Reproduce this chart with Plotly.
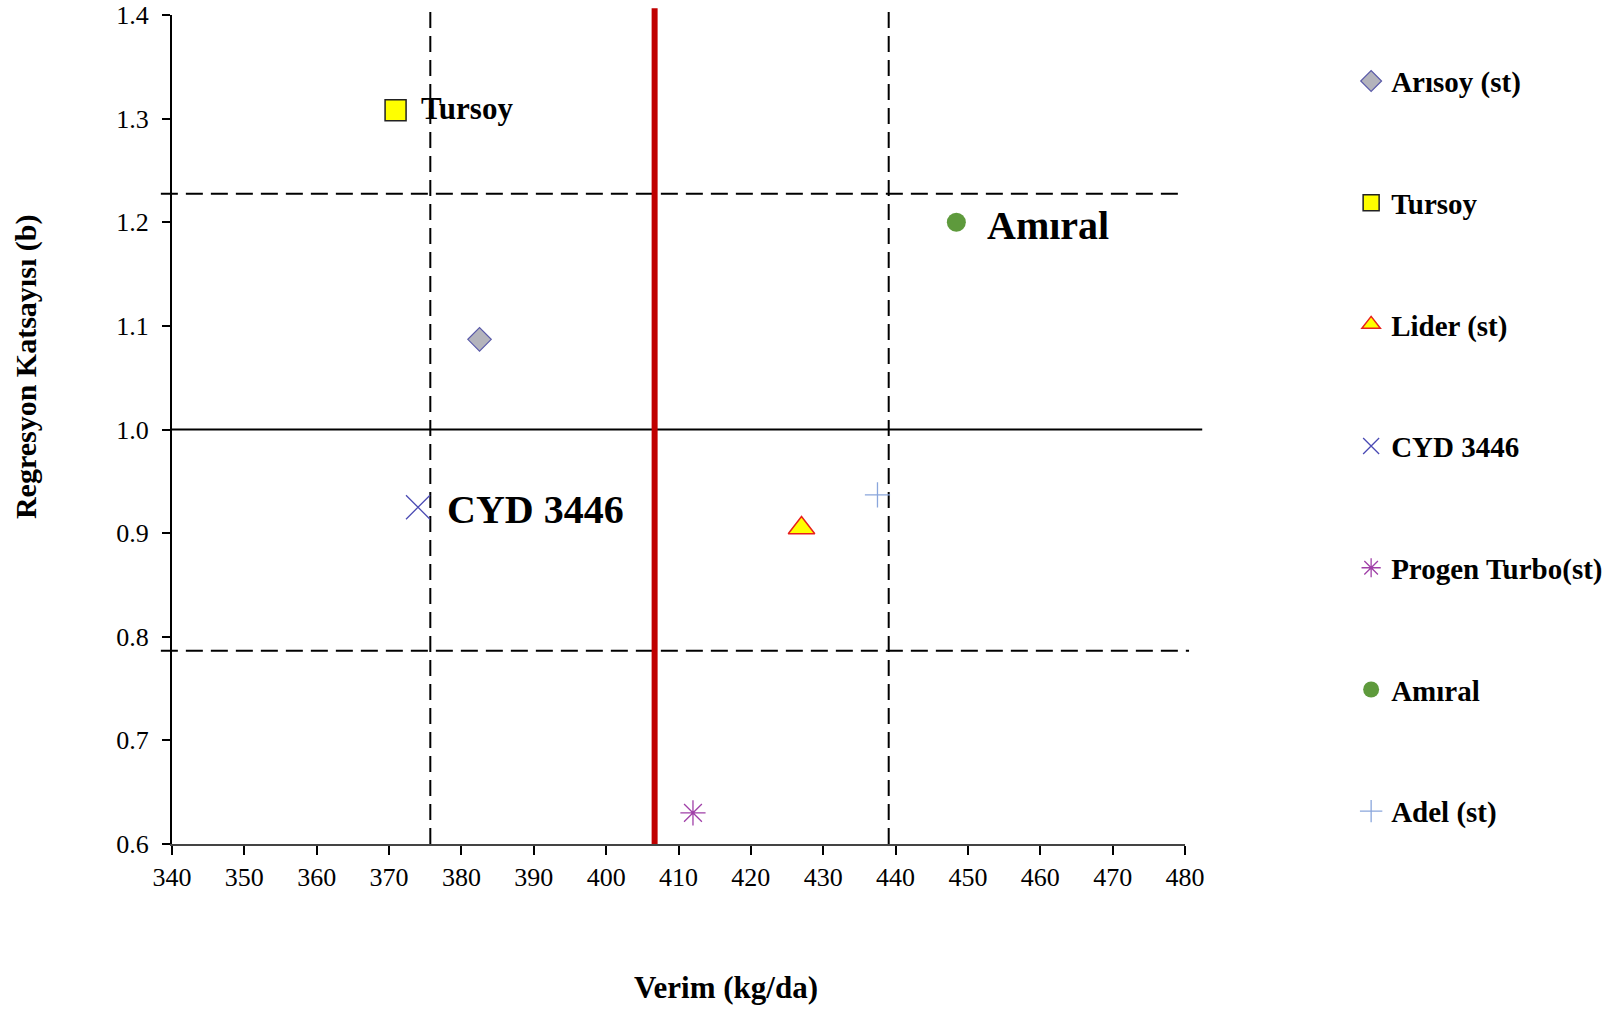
import plotly.graph_objects as go

# Genotypes: yield (kg/da) and regression coefficient (b)
names = ["Arısoy (st)", "Tursoy", "Lider (st)", "CYD 3446", "Progen Turbo(st)", "Amıral", "Adel (st)"]
yield_vals = [382.5, 370.9, 427.0, 374.0, 412.0, 448.4, 437.5]
b_vals = [1.087, 1.308, 0.905, 0.925, 0.630, 1.200, 0.937]

symbols = ["diamond", "square", "triangle-up", "x-thin-open", "asterisk-open", "circle", "cross-thin-open"]
fill_colors = ["#B4B4BC", "#FFFF00", "#FFFF00", "#4B4BB4", "#A040A8", "#5E9A3C", "#8AA6DC"]
line_colors = ["#5A5AA8", "#222222", "#E8201C", "#4B4BB4", "#A040A8", "#5E9A3C", "#8AA6DC"]
marker_sizes = [18, 21, 23, 24, 21, 19, 18]
line_widths = [1.2, 1.5, 1.5, 1.3, 1.3, 0, 1.3]

# Reference lines
mean_yield = [406.7]
yield_limits = [375.7, 439.05]
b_limits = [1.2274, 0.7865]
b_unity = [1.0]

# Point labels
label_texts = ["Tursoy", "Amıral", "CYD 3446"]
label_x = [374.2, 452.3, 377.7]
label_y = [1.31, 1.197, 0.923]
label_sizes = [31, 40, 40]

x_ticks = list(range(340, 481, 10))
y_ticks = [0.6, 0.7, 0.8, 0.9, 1.0, 1.1, 1.2, 1.3, 1.4]
y_tick_text = ["0.6", "0.7", "0.8", "0.9", "1.0", "1.1", "1.2", "1.3", "1.4"]

FONT = "Liberation Serif"

fig = go.Figure()

for i, n in enumerate(names):
    fig.add_trace(go.Scatter(
        x=[yield_vals[i]], y=[b_vals[i]], mode="markers", name=n,
        legendgroup=f"g{i}",
        marker=dict(symbol=symbols[i], size=marker_sizes[i], color=fill_colors[i],
                    line=dict(color=line_colors[i], width=line_widths[i])),
        cliponaxis=False,
    ))

shapes = []
# solid horizontal line at b = 1
for v in b_unity:
    shapes.append(dict(type="line", xref="paper", yref="y", x0=0, x1=1.017, y0=v, y1=v,
                       line=dict(color="black", width=2), layer="below"))
# dashed horizontal b limits
for v, x1 in zip(b_limits, [0.999, 1.004]):
    shapes.append(dict(type="line", xref="paper", yref="y", x0=-0.011, x1=x1, y0=v, y1=v,
                       line=dict(color="black", width=2, dash="17px,8px"), layer="below"))
# dashed vertical yield limits
for v in yield_limits:
    shapes.append(dict(type="line", xref="x", yref="paper", x0=v, x1=v, y0=0, y1=1.008,
                       line=dict(color="black", width=2, dash="16px,8px"), layer="below"))
# red mean yield line
for v in mean_yield:
    shapes.append(dict(type="line", xref="x", yref="paper", x0=v, x1=v, y0=0, y1=1.008,
                       line=dict(color="#C00000", width=6), layer="below"))

annotations = []
for t, x, y, s in zip(label_texts, label_x, label_y, label_sizes):
    annotations.append(dict(text=t, x=x, y=y, xref="x", yref="y", xanchor="left", yanchor="middle",
                            showarrow=False, font=dict(family=FONT, size=s, color="black", weight="bold")))
annotations.append(dict(text="Regresyon Katsayısı (b)", x=-0.1434, y=0.575, xref="paper", yref="paper",
                        textangle=-90, showarrow=False, xanchor="center", yanchor="middle",
                        font=dict(family=FONT, size=30, color="black", weight="bold")))
annotations.append(dict(text="Verim (kg/da)", x=0.547, y=-0.1729, xref="paper", yref="paper",
                        showarrow=False, xanchor="center", yanchor="middle",
                        font=dict(family=FONT, size=31, color="black", weight="bold")))

fig.update_layout(
    width=1620, height=1009,
    margin=dict(l=172, r=428, t=15, b=165),
    paper_bgcolor="white", plot_bgcolor="white",
    showlegend=True,
    legend=dict(x=1.164, y=0.951, xanchor="left", yanchor="top",
                traceorder="grouped", tracegroupgap=81,
                font=dict(family=FONT, size=29, color="black", weight="bold"),
                bgcolor="rgba(0,0,0,0)", itemsizing="trace"),
    shapes=shapes,
    annotations=annotations,
)
fig.update_xaxes(range=[340, 480], tickvals=x_ticks, ticks="outside", ticklen=9, tickwidth=1.5,
                 tickcolor="black", showline=True, linecolor="#444444", linewidth=2,
                 showgrid=False, zeroline=False, automargin=False, ticklabelstandoff=0,
                 ticklabeloverflow="allow",
                 tickfont=dict(family=FONT, size=26, color="black"))
fig.update_yaxes(range=[0.6, 1.4], tickvals=y_ticks, ticktext=y_tick_text, ticks="outside", ticklen=8,
                 tickwidth=1.5, tickcolor="black", showline=True, linecolor="black", linewidth=2,
                 showgrid=False, zeroline=False, ticklabelstandoff=8, automargin=False,
                 ticklabeloverflow="allow",
                 tickfont=dict(family=FONT, size=26, color="black"))

fig.write_html("out.html", config={"displayModeBar": False},
               post_script="document.body.style.margin='0px';")
